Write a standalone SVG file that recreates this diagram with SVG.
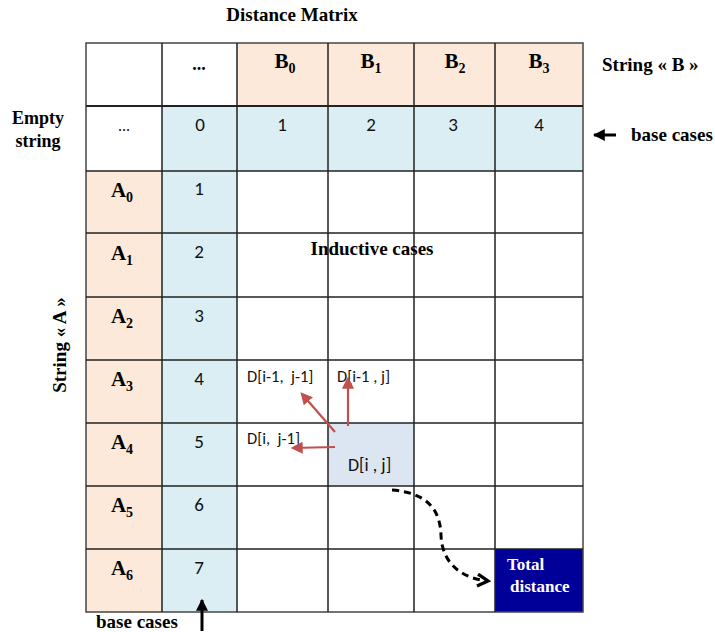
<svg xmlns="http://www.w3.org/2000/svg" width="715" height="632" viewBox="0 0 715 632">
<style>
.b{font-family:"Liberation Serif",serif;font-weight:bold;fill:#000}
.s{font-family:Carlito,"Open Sans","Liberation Sans",sans-serif;fill:#111}
.g{stroke:#222;stroke-width:1.5;fill:none}
.hl{font-size:21px;text-anchor:middle}
.num{font-size:19px;text-anchor:middle}
.lab{font-size:16.5px;white-space:pre}
</style>
<defs>
<marker id="ra" viewBox="0 0 10 10" refX="8" refY="5" markerWidth="5.5" markerHeight="5.5" orient="auto"><path d="M0,0 L10,5 L0,10 Z" fill="#C0504D"/></marker>
<marker id="ba" viewBox="0 0 10 10" refX="8" refY="5" markerWidth="5" markerHeight="5" orient="auto"><path d="M1,1 L8,5 L1,9" fill="none" stroke="#000" stroke-width="2.2"/></marker>
<marker id="ka" viewBox="0 0 10 10" refX="9" refY="5" markerWidth="4" markerHeight="4" orient="auto"><path d="M0,0 L10,5 L0,10 Z" fill="#000"/></marker>
</defs>
<rect width="715" height="632" fill="#fff"/>
<g id="title"><text class="b" x="292" y="21" font-size="19" text-anchor="middle">Distance Matrix</text></g>
<g id="fills">
<rect x="237" y="43" width="346" height="63" fill="#FDE9D9"/>
<rect x="86" y="171" width="76" height="441" fill="#FDE9D9"/>
<rect x="162" y="106" width="421" height="65" fill="#DBEEF3"/>
<rect x="162" y="171" width="75" height="441" fill="#DBEEF3"/>
<rect x="328" y="423" width="86" height="63" fill="#DCE6F2"/>
<rect x="495" y="549" width="88" height="63" fill="#000099"/>
</g>
<g id="grid" class="g">
<rect x="86" y="43" width="497" height="569" stroke="#444"/>
<path d="M162,43V612M237,43V612M328,43V612M414,43V612M495,43V612"/>
<path d="M86,106H583" stroke-width="2"/>
<path d="M86,171H583M86,233H583M86,297H583M86,360H583M86,423H583M86,486H583M86,549H583"/>
</g>
<g id="header">
<text class="b" x="199" y="70" font-size="18" text-anchor="middle">...</text>
<text class="b hl" x="285" y="68">B<tspan font-size="14" dy="5">0</tspan></text>
<text class="b hl" x="371" y="68">B<tspan font-size="14" dy="5">1</tspan></text>
<text class="b hl" x="455" y="68">B<tspan font-size="14" dy="5">2</tspan></text>
<text class="b hl" x="539" y="68">B<tspan font-size="14" dy="5">3</tspan></text>
<text class="b" x="602" y="71" font-size="19">String « B »</text>
</g>
<g id="base-row">
<text class="b" x="38" y="124" font-size="18" text-anchor="middle">Empty</text>
<text class="b" x="38" y="147" font-size="18" text-anchor="middle">string</text>
<text class="s" x="124" y="131" font-size="16" text-anchor="middle">...</text>
<text class="s num" x="200" y="131">0</text>
<text class="s num" x="282" y="131">1</text>
<text class="s num" x="371" y="131">2</text>
<text class="s num" x="453" y="131">3</text>
<text class="s num" x="539" y="131">4</text>
<path d="M616,135H594" stroke="#000" stroke-width="3" marker-end="url(#ka)"/>
<text class="b" x="631" y="141" font-size="19">base cases</text>
</g>
<g id="row-labels">
<text class="b hl" x="122" y="197">A<tspan font-size="14" dy="5">0</tspan></text>
<text class="b hl" x="122" y="260">A<tspan font-size="14" dy="5">1</tspan></text>
<text class="b hl" x="122" y="323">A<tspan font-size="14" dy="5">2</tspan></text>
<text class="b hl" x="122" y="386">A<tspan font-size="14" dy="5">3</tspan></text>
<text class="b hl" x="122" y="449">A<tspan font-size="14" dy="5">4</tspan></text>
<text class="b hl" x="122" y="512">A<tspan font-size="14" dy="5">5</tspan></text>
<text class="b hl" x="122" y="575">A<tspan font-size="14" dy="5">6</tspan></text>
<text class="b" font-size="19" text-anchor="middle" transform="translate(66,345) rotate(-90)">String « A »</text>
</g>
<g id="base-col">
<text class="s num" x="199" y="195">1</text>
<text class="s num" x="199" y="258">2</text>
<text class="s num" x="199" y="322">3</text>
<text class="s num" x="199" y="385">4</text>
<text class="s num" x="199" y="448">5</text>
<text class="s num" x="199" y="511">6</text>
<text class="s num" x="199" y="574">7</text>
<text class="b" x="96" y="628" font-size="19">base cases</text>
<path d="M202,631V600" stroke="#000" stroke-width="3" marker-end="url(#ka)"/>
</g>
<g id="inductive"><text class="b" x="372" y="255" font-size="19" text-anchor="middle">Inductive cases</text></g>
<g id="cells">
<text class="s lab" x="247" y="382" xml:space="preserve">D[i-1,  j-1]</text>
<text class="s lab" x="337" y="382" xml:space="preserve">D[i-1 , j]</text>
<text class="s lab" x="247" y="444" xml:space="preserve">D[i,  j-1]</text>
<text class="s" x="348" y="471" font-size="18">D[i , j]</text>
</g>
<g id="total"><text class="b" x="507" y="570" font-size="17" style="fill:#fff">Total</text>
<text class="b" x="510" y="592" font-size="17" style="fill:#fff">distance</text></g>
<g id="connectors">
<path d="M335,432L302,394" stroke="#C0504D" stroke-width="2.2" marker-end="url(#ra)"/>
<path d="M348,426V379" stroke="#C0504D" stroke-width="2.2" marker-end="url(#ra)"/>
<path d="M335,447L293,448" stroke="#C0504D" stroke-width="2.2" marker-end="url(#ra)"/>
<path d="M392,490C428,493 440,510 441,535C442,566 465,579 488,581" fill="none" stroke="#000" stroke-width="3" stroke-dasharray="7,5" marker-end="url(#ba)"/>
</g>
</svg>
